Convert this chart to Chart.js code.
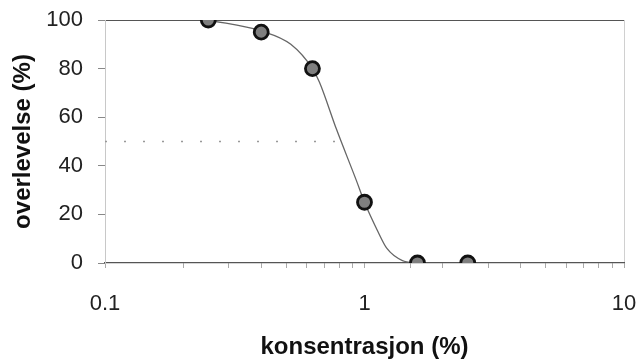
<!DOCTYPE html>
<html>
<head>
<meta charset="utf-8">
<script src="https://cdn.jsdelivr.net/npm/chart.js@4/dist/chart.umd.min.js"></script>
<style>
  html, body { margin: 0; padding: 0; background: #fff; }
  #wrap { width: 639px; height: 362px; position: relative; }
</style>
</head>
<body>
<div id="wrap"><canvas id="chart"></canvas></div>
<script>
// --- data ---
const concentrations = [0.25, 0.4, 0.63, 1.0, 1.6, 2.5];
const survival = [100, 95, 80, 25, 0, 0];

// fitted curve, traced point by point
const curveX = [0.25, 0.4, 0.52, 0.63, 0.67, 0.78, 0.93, 1.0, 1.12, 1.22, 1.4, 1.6];
const curveY = [100, 95.5, 90, 80, 74.5, 55, 34, 25, 13.5, 6, 1, 0];

// dotted 50 % guide
const guideX = [0.1, 0.8];
const guideY = [50, 50];

const xTickLabels = [0.1, 1, 10];
const yTicks = [0, 20, 40, 60, 80, 100];

const toPoints = (xs, ys) => xs.map((x, i) => ({ x, y: ys[i] }));
const FONT = "'Liberation Sans', Arial, sans-serif";

new Chart(document.getElementById("chart"), {
  type: "scatter",
  data: {
    datasets: [
      {
        label: "guide",
        type: "line",
        data: toPoints(guideX, guideY),
        borderColor: "#999",
        borderWidth: 1.5,
        borderDash: [2, 17],
        pointRadius: 0,
        order: 3,
      },
      {
        label: "fit",
        type: "line",
        data: toPoints(curveX, curveY),
        borderColor: "#666",
        borderWidth: 1.3,
        cubicInterpolationMode: "monotone",
        pointRadius: 0,
        order: 2,
      },
      {
        label: "overlevelse",
        data: toPoints(concentrations, survival),
        backgroundColor: "#7f7f7f",
        borderColor: "#111",
        borderWidth: 2.8,
        pointRadius: 7,
        order: 1,
      },
    ],
  },
  options: {
    responsive: true,
    maintainAspectRatio: false,
    animation: false,
    events: [],
    layout: { padding: { left: 0, right: 15, top: 20, bottom: 0 } },
    plugins: { legend: { display: false }, tooltip: { enabled: false } },
    scales: {
      x: {
        type: "logarithmic",
        min: 0.1,
        max: 10,
        afterFit: (scale) => {
          scale.height = 99;
          scale.paddingLeft = 0;
          scale.paddingRight = 0;
        },
        border: { color: "#555", width: 1.2 },
        grid: {
          color: (ctx) => (ctx.tick && ctx.tick.value === 10 ? "#d0d0d0" : "transparent"),
          tickColor: "#aaa",
          tickLength: 5,
        },
        ticks: {
          autoSkip: false,
          maxRotation: 0,
          padding: 23,
          color: "#222",
          font: { family: FONT, size: 22 },
          callback: (v) => (xTickLabels.includes(v) ? String(v) : ""),
        },
        title: {
          display: true,
          text: "konsentrasjon (%)",
          color: "#111",
          font: { family: FONT, size: 24, weight: "bold" },
          padding: { top: 0, bottom: 0 },
        },
      },
      y: {
        min: 0,
        max: 100,
        afterFit: (scale) => {
          scale.width = 105;
          scale.paddingTop = 0;
          scale.paddingBottom = 0;
        },
        afterBuildTicks: (scale) => { scale.ticks = yTicks.map((v) => ({ value: v })); },
        border: { color: "#c8c8c8", width: 1 },
        grid: {
          color: (ctx) => (ctx.tick && ctx.tick.value === 100 ? "#555" : "transparent"),
          tickColor: "#888",
          tickLength: 7,
        },
        ticks: {
          padding: 15,
          color: "#222",
          font: { family: FONT, size: 22 },
        },
        title: {
          display: true,
          text: "overlevelse (%)",
          color: "#111",
          font: { family: FONT, size: 24, weight: "bold" },
          padding: { top: 9, bottom: 0 },
        },
      },
    },
  },
});
</script>
</body>
</html>
